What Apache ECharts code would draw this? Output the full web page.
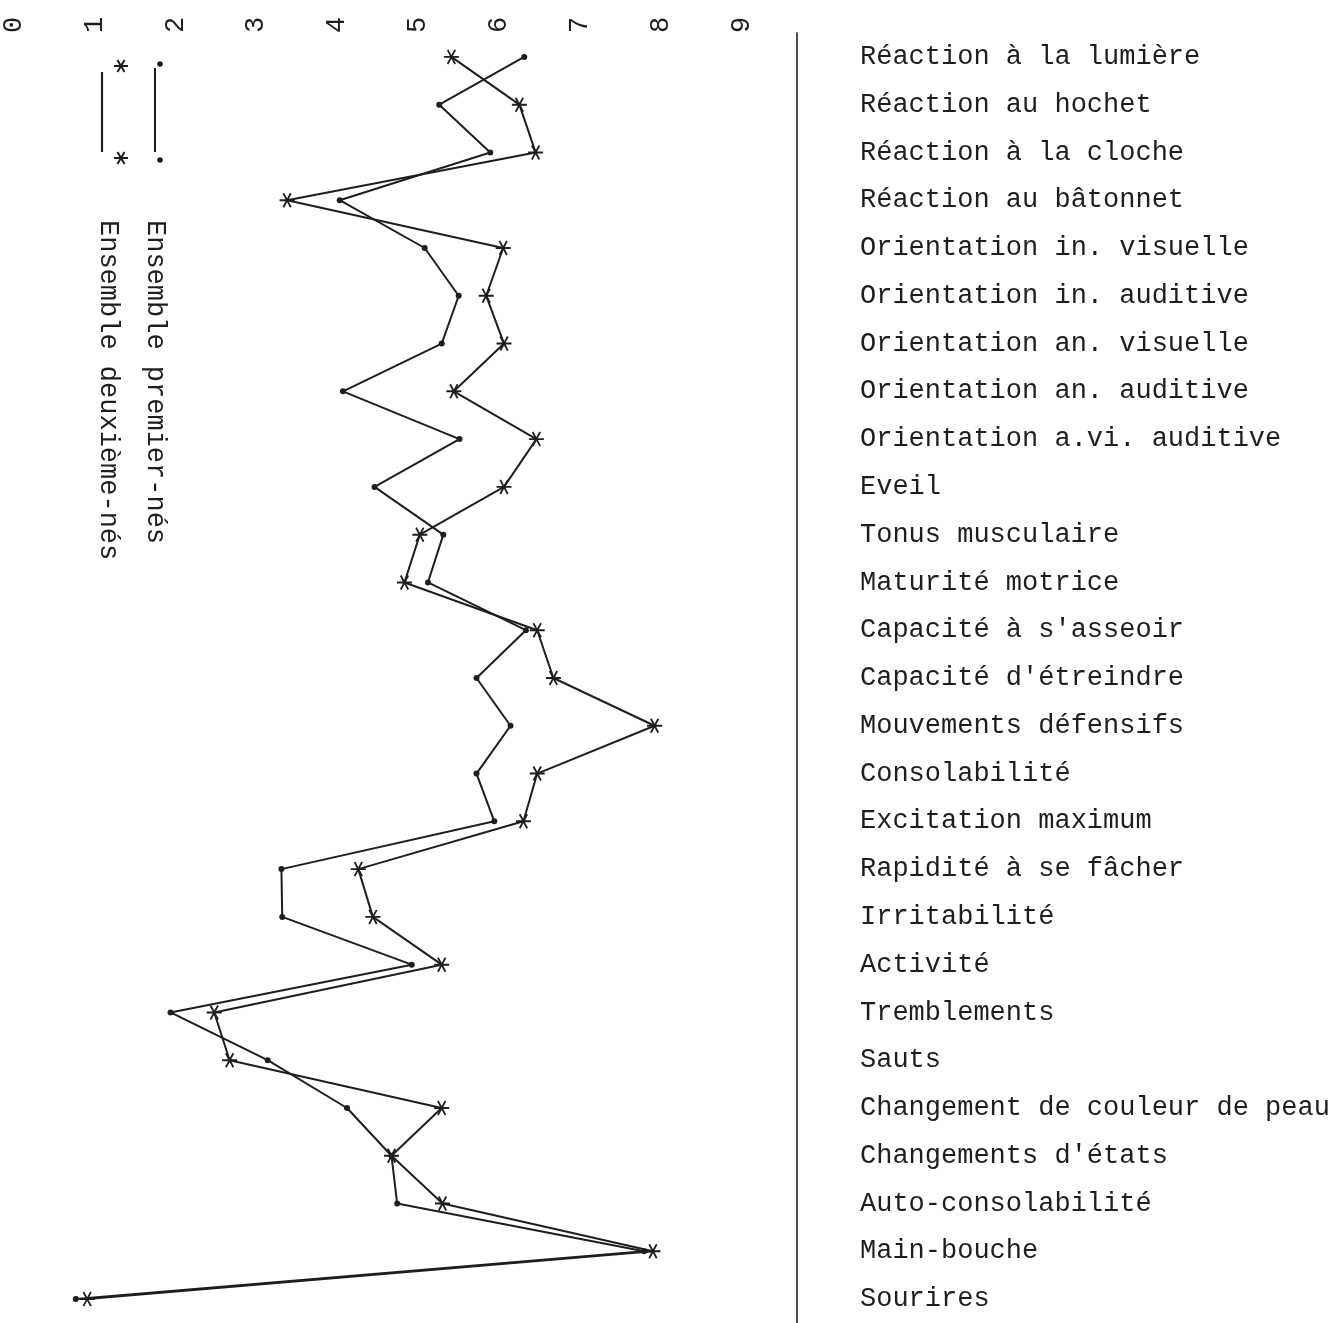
<!DOCTYPE html>
<html>
<head>
<meta charset="utf-8">
<script src="https://cdn.jsdelivr.net/npm/echarts@6/dist/echarts.min.js"></script>
<style>
html,body{margin:0;padding:0;background:#fff;}
#chart{width:1338px;height:1323px;}
</style>
</head>
<body>
<div id="chart"></div>
<script>
var categories = [
  "Réaction à la lumière",
  "Réaction au hochet",
  "Réaction à la cloche",
  "Réaction au bâtonnet",
  "Orientation in. visuelle",
  "Orientation in. auditive",
  "Orientation an. visuelle",
  "Orientation an. auditive",
  "Orientation a.vi. auditive",
  "Eveil",
  "Tonus musculaire",
  "Maturité motrice",
  "Capacité à s'asseoir",
  "Capacité d'étreindre",
  "Mouvements défensifs",
  "Consolabilité",
  "Excitation maximum",
  "Rapidité à se fâcher",
  "Irritabilité",
  "Activité",
  "Tremblements",
  "Sauts",
  "Changement de couleur de peau",
  "Changements d'états",
  "Auto-consolabilité",
  "Main-bouche",
  "Sourires"
];
var premiersNes = [6.31,5.26,5.89,4.03,5.08,5.50,5.29,4.07,5.51,4.46,5.31,5.12,6.33,5.72,6.14,5.72,5.94,3.31,3.32,4.92,1.94,3.14,4.12,4.67,4.74,7.79,0.77];
var deuxiemesNes = [5.41,6.25,6.45,3.38,6.05,5.84,6.06,5.44,6.46,6.06,5.02,4.83,6.47,6.67,7.92,6.47,6.30,4.26,4.44,5.29,2.48,2.67,5.29,4.67,5.30,7.90,0.91];
var tickLabels = ["0","1","2","3","4","5","6","7","8","9"];
var legendNames = ["Ensemble premier-nés", "Ensemble deuxième-nés"];

var FONT = "'Liberation Mono', 'DejaVu Sans Mono', monospace";
var INK = "#1e1e1e";
var STAR = "path://M10 1.2L10 -1.2L-10 -1.2L-10 1.2ZM3.96 9.26L6.04 8.06L-3.96 -9.26L-6.04 -8.06ZM-6.04 8.06L-3.96 9.26L6.04 -8.06L3.96 -9.26Z";

// asterisk glyph for the legend, built from three thin bars
function asterisk(cx, cy, r, w) {
  var out = [];
  [0, 60, 120].forEach(function (deg) {
    var a = deg * Math.PI / 180;
    var dx = Math.cos(a), dy = Math.sin(a);
    var nx = -dy, ny = dx;
    out.push({
      type: 'polygon',
      shape: {points: [
        [cx + r * dx + w * nx, cy + r * dy + w * ny],
        [cx + r * dx - w * nx, cy + r * dy - w * ny],
        [cx - r * dx - w * nx, cy - r * dy - w * ny],
        [cx - r * dx + w * nx, cy - r * dy + w * ny]
      ]},
      style: {fill: INK}
    });
  });
  return out;
}

var graphics = [
  {type: 'line', shape: {x1: 155, y1: 68, x2: 155, y2: 152}, style: {stroke: INK, lineWidth: 2}},
  {type: 'circle', shape: {cx: 160, cy: 64, r: 2.8}, style: {fill: INK}},
  {type: 'circle', shape: {cx: 160, cy: 160, r: 2.8}, style: {fill: INK}},
  {type: 'line', shape: {x1: 102, y1: 72, x2: 102, y2: 152}, style: {stroke: INK, lineWidth: 2.2}},
  {type: 'text', x: 155, y: 220, rotation: -Math.PI / 2,
    style: {text: legendNames[0], font: "27px 'Liberation Mono', monospace", fill: INK, textAlign: 'left', textVerticalAlign: 'middle'}},
  {type: 'text', x: 108, y: 220, rotation: -Math.PI / 2,
    style: {text: legendNames[1], font: "27px 'Liberation Mono', monospace", fill: INK, textAlign: 'left', textVerticalAlign: 'middle'}}
].concat(asterisk(121, 66, 7, 1)).concat(asterisk(121, 158, 7, 1));

var chart = echarts.init(document.getElementById('chart'), null, {renderer: 'canvas'});
var option = {
  backgroundColor: '#ffffff',
  animation: false,
  grid: {left: 10, right: 596, top: 33, height: 1299, containLabel: false},
  xAxis: {
    type: 'value', position: 'top', min: 0, max: 9, interval: 1,
    axisLine: {show: false}, axisTick: {show: false}, splitLine: {show: false},
    axisLabel: {
      rotate: -90, margin: 0, fontFamily: FONT, fontSize: 27, color: INK,
      formatter: function (v) { return tickLabels[Math.round(v)]; }
    }
  },
  yAxis: {
    type: 'category', data: categories, inverse: true, position: 'right', offset: 55,
    boundaryGap: true,
    axisLine: {show: true, onZero: false, lineStyle: {color: INK, width: 1.6}},
    axisTick: {show: false},
    splitLine: {show: false},
    axisLabel: {margin: 63, fontFamily: FONT, fontSize: 27, color: INK, align: 'left'}
  },
  series: [
    {
      name: legendNames[0], type: 'line', data: premiersNes,
      symbol: 'circle', symbolSize: 6, showAllSymbol: true,
      lineStyle: {color: INK, width: 2}, itemStyle: {color: INK}
    },
    {
      name: legendNames[1], type: 'line', data: deuxiemesNes,
      symbol: STAR, symbolSize: 15, showAllSymbol: true,
      lineStyle: {color: INK, width: 2}, itemStyle: {color: INK}
    }
  ],
  graphic: graphics
};
chart.setOption(option);
</script>
</body>
</html>
